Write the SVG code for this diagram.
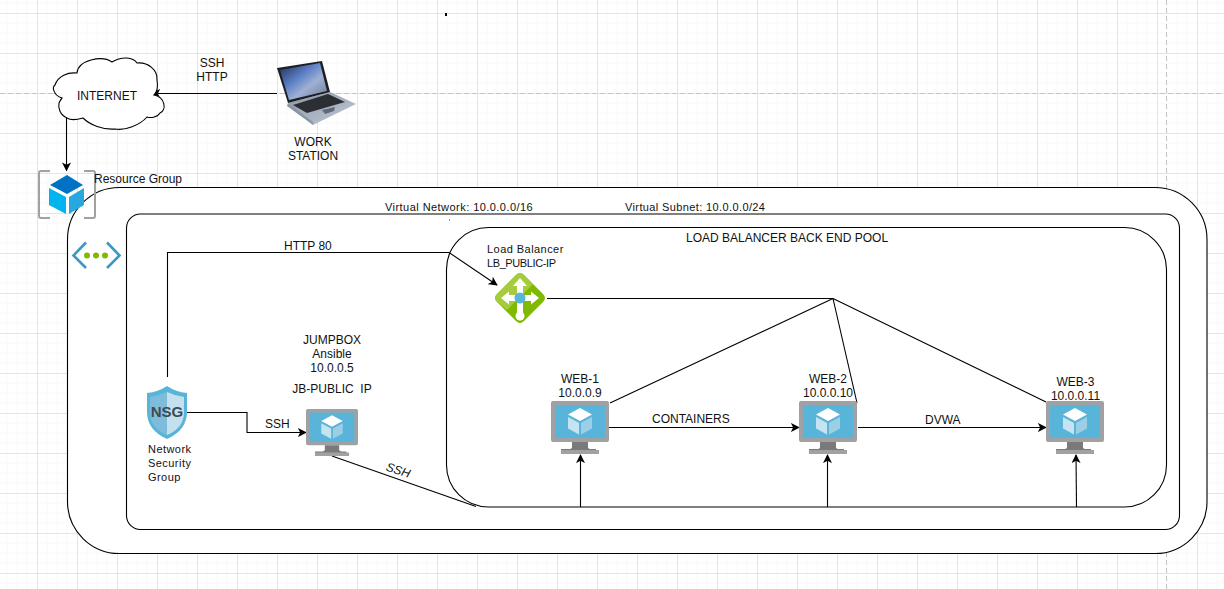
<svg xmlns="http://www.w3.org/2000/svg" width="1224" height="589" viewBox="0 0 1224 589">
<style>
text{font-family:"Liberation Sans",Arial,sans-serif;font-size:12px;fill:#111}
.m{text-anchor:middle}
.s{font-size:11px;letter-spacing:.45px}
.box{fill:#fff;stroke:#000;stroke-width:1.1}
.c{fill:none;stroke:#000;stroke-width:1.1}
.a{marker-end:url(#arrow)}
</style>
<defs>
<pattern id="grid" width="40" height="40" patternUnits="userSpaceOnUse" x="37" y="13">
<path d="M10 0V40M20 0V40M30 0V40M0 10H40M0 20H40M0 30H40" fill="none" stroke="#f8f8f8" stroke-width="1"/>
<path d="M.5 0V40M0 .5H40" fill="none" stroke="#e4e4e4" stroke-width="1"/>
</pattern>
<marker id="arrow" viewBox="0 0 10 10" refX="9" refY="5" markerWidth="9" markerHeight="9" markerUnits="userSpaceOnUse" orient="auto">
<path d="M0 0L10 5L0 10L2.500 5Z" fill="#000"/>
</marker>
<linearGradient id="scr" x1="0" y1="0" x2="1" y2="1">
<stop offset="0" stop-color="#1f2a55"/><stop offset=".4" stop-color="#5f82c8"/><stop offset=".62" stop-color="#9fb0d2"/><stop offset="1" stop-color="#6f7a98"/>
</linearGradient>
<linearGradient id="base" x1="0" y1="0" x2="1" y2="1">
<stop offset="0" stop-color="#8a95a5"/><stop offset="1" stop-color="#c3ccd8"/>
</linearGradient>
<symbol id="vm" viewBox="0 0 58 53" preserveAspectRatio="none">
<path d="M2 0H56Q58 0 58 2V39Q58 41 56 41H2Q0 41 0 39V2Q0 0 2 0Z" fill="#a0a1a2"/>
<rect x="4" y="4" width="50" height="33" fill="#59b4d9"/>
<path d="M21 41H37V46Q37 48 40 48H45V53H10V48H18Q21 48 21 46Z" fill="#7a7a7a"/>
<rect x="10" y="49" width="38" height="4" fill="#a0a1a2"/>
<path d="M29 7L41 13.500L29 20L17 13.500Z" fill="#fff"/>
<path d="M17 16L28 22V33.500L17 27.500Z" fill="#c5e3f0"/>
<path d="M41 16L30 22V33.500L41 27.500Z" fill="#9ccfe6"/>
</symbol>
</defs>
<g id="background">
<rect width="1224" height="589" fill="#fff"/>
<rect width="1224" height="589" fill="url(#grid)"/>
<path d="M0 93.500H1224M1166.500 0V589" fill="none" stroke="#c4c4c4" stroke-dasharray="5 3"/>
<rect x="445" y="13" width="2" height="3" fill="#000"/>
</g>
<g id="resource-group-box"><rect class="box" x="67.500" y="187.500" width="1139.500" height="366" rx="52"/></g>
<g id="virtual-network-box"><rect class="box" x="126.500" y="214" width="1053" height="315.500" rx="14"/></g>
<g id="backend-pool-box"><rect class="box" x="446.500" y="227.500" width="720" height="279.500" rx="42"/></g>
<rect x="449" y="219" width="1" height="2" fill="#7fba00"/>

<g id="connectors">
<path class="c a" d="M277 93.500H152"/>
<path class="c a" d="M66.500 118V170.500"/>
<path class="c a" d="M187 412.500H247V432.500H306"/>
<path class="c a" d="M167.500 377V252.500H449L497 285"/>
<path class="c" d="M332 456L476 506.500"/>
<path class="c" d="M547 298.500H833L610 403M833 298.500L857 403M833 298.500L1046 402"/>
<path class="c a" d="M609 427.500H799"/>
<path class="c a" d="M858 427.500H1046"/>
<path class="c a" d="M580.500 507V455"/>
<path class="c a" d="M827.500 507V455"/>
<path class="c a" d="M1076.500 507L1076 455"/>
</g>

<g id="internet">
<path d="M77 73C78 60 102 55 112 62C122 56 133 57 137 63C148 62 158 70 157 80C158 86 157 92 154 95C165 97 167 110 160 113C157 118 150 118 147 117C140 125 125 131 115 129C103 130 90 125 83 118C76 120 70 120 67 118C60 115 58 108 59 103C60 101 61 99 62 98C53 95 52 87 55 85C58 76 68 72 77 73Z" fill="#fff" stroke="#000" stroke-width="1.100"/>
<text class="m" x="107" y="100">INTERNET</text>
</g>
<text class="m" x="212" y="67">SSH</text>
<text class="m" x="212" y="81">HTTP</text>

<g id="workstation">
<path d="M288 103L330 92L356 104L313 125Z" fill="url(#base)"/>
<path d="M293 105L328 94L345 102L307 113Z" fill="#2b2e32"/>
<path d="M322 110L335 107L334 111L325 114Z" fill="#5e6a78"/>
<path d="M288 103L313 122V125L287 106Z" fill="#8a95a5"/>
<path d="M277 68L322 61L330 92L288 103Z" fill="#1c2024"/>
<path d="M280 70L320 63L327 91L289 100Z" fill="url(#scr)"/>
<text class="m" x="313" y="146">WORK</text>
<text class="m" x="313" y="160">STATION</text>
</g>

<g id="resource-group">
<path d="M50 171H41Q39 171 39 173V216Q39 218 41 218H50M84 171H93Q95 171 95 173V216Q95 218 93 218H84" fill="none" stroke="#a0a1a2" stroke-width="2"/>
<path d="M67 175L83 185L67 194L50 185Z" fill="#0072c6"/>
<path d="M49 188L66 197V214L49 205Z" fill="#00b4f0"/>
<path d="M84 188L69 197V214L84 205Z" fill="#29a8e0"/>
<text x="94" y="183">Resource Group</text>
</g>

<g id="virtual-network">
<path d="M86 242.500L73.500 255.500L86 268M107 242.500L119.500 255.500L107 268" fill="none" stroke="#3999c6" stroke-width="2.600"/>
<circle cx="87" cy="255.500" r="3" fill="#7fba00"/><circle cx="96" cy="255.500" r="3" fill="#7fba00"/><circle cx="105" cy="255.500" r="3" fill="#7fba00"/>
<text class="s" x="385" y="211">Virtual Network: 10.0.0.0/16</text>
<text class="s" x="625" y="211" style="letter-spacing:.38px">Virtual Subnet: 10.0.0.0/24</text>
</g>
<text x="686" y="242">LOAD BALANCER BACK END POOL</text>
<text x="284" y="250">HTTP 80</text>

<g id="nsg">
<path d="M167 386Q176 392 187 393V412Q187 430 167 439Q147 430 147 412V393Q158 392 167 386Z" fill="#59b4d9"/>
<path d="M167 392Q175 396 184 397V412Q184 428 167 435Q150 428 150 412V397Q159 396 167 392Z" fill="#7fbcd9"/>
<path d="M167 392Q175 396 184 397V412Q184 428 167 435Z" fill="#c3e0ee"/>
<text class="m" x="167" y="417" style="font-size:15px;font-weight:bold;fill:#3e4a52">NSG</text>
<text class="s" x="148" y="453">Network</text>
<text class="s" x="148" y="467">Security</text>
<text class="s" x="148" y="481">Group</text>
</g>

<g id="jumpbox">
<use href="#vm" x="306" y="409" width="52" height="47"/>
<text class="m" x="332" y="344">JUMPBOX</text>
<text class="m" x="332" y="358">Ansible</text>
<text class="m" x="332" y="372">10.0.0.5</text>
<text class="m" x="332" y="393" xml:space="preserve">JB-PUBLIC  IP</text>
</g>
<text x="265" y="428">SSH</text>
<text class="m" transform="translate(397 474) rotate(18)" style="font-style:italic">SSH</text>

<g id="load-balancer">
<path d="M516 275Q520 271 524 275L543 294Q547 298 543 302L524 321Q520 325 516 321L497 302Q493 298 497 294Z" fill="#7fba00"/>
<path d="M516 275Q520 271 524 275L533 284L507 310L497 302Q493 298 497 294Z" fill="#a4cc3c"/>
<path d="M520 278L527 286H523V296H517V286H513ZM501 298L509 291.500V295H531V291.500L539 298L531 304.500V301H509V304.500ZM517 300H523V314H517Z" fill="#fff"/>
<circle cx="520" cy="316" r="4.500" fill="#fff"/>
<circle cx="520" cy="298" r="5.500" fill="#59b4d9"/>
<text class="s" x="487" y="253">Load Balancer</text>
<text class="s" x="487" y="267" style="letter-spacing:-.4px">LB_PUBLIC-IP</text>
</g>

<g id="web-1">
<text class="m" x="580" y="383">WEB-1</text>
<text class="m" x="580" y="397">10.0.0.9</text>
<use href="#vm" x="551" y="401" width="58" height="53"/>
</g>
<g id="web-2">
<text class="m" x="828" y="383">WEB-2</text>
<text class="m" x="828" y="397">10.0.0.10</text>
<use href="#vm" x="799" y="401" width="58" height="53"/>
</g>
<g id="web-3">
<text class="m" x="1075.500" y="386">WEB-3</text>
<text class="m" x="1075.500" y="400">10.0.0.11</text>
<use href="#vm" x="1046" y="401" width="58" height="53"/>
</g>
<text x="652" y="423">CONTAINERS</text>
<text x="925" y="424">DVWA</text>
</svg>
